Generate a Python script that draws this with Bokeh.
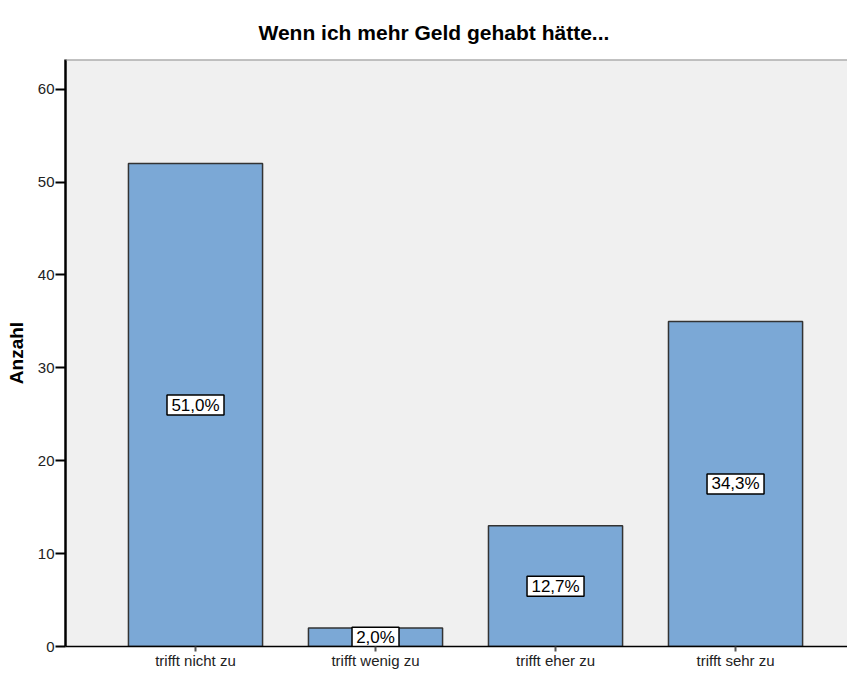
from bokeh.plotting import figure
from bokeh.models import Range1d, ColumnDataSource, FixedTicker, Title, Span
from bokeh.core.properties import value
from bokeh.embed import file_html
from bokeh.resources import INLINE

categories = ["trifft nicht zu", "trifft wenig zu", "trifft eher zu", "trifft sehr zu"]
counts = [52, 2, 13, 35]
percent_labels = ["51,0%", "2,0%", "12,7%", "34,3%"]
y_ticks = [0, 10, 20, 30, 40, 50, 60]
Y_MAX = 63.2

FONT = "Liberation Sans"

xs = list(range(len(categories)))
src = ColumnDataSource(dict(
    x=xs,
    top=counts,
    mid=[c / 2 for c in counts],
    lab=percent_labels,
    boxw=[10 * len(s) + 7 for s in percent_labels],
))

p = figure(width=847, height=671, output_backend="svg", toolbar_location=None,
           x_range=Range1d(-0.7222, 3.622), y_range=Range1d(0, Y_MAX),
           min_border_left=65, min_border_right=0, min_border_top=59, min_border_bottom=20)

p.title = Title(text="Wenn ich mehr Geld gehabt hätte...", align="left",
                text_font=FONT, text_font_size="21px", text_font_style="bold",
                text_color="black", offset=193, standoff=32)

p.background_fill_color = "#F0F0F0"
p.border_fill_color = "white"
p.outline_line_color = None
p.grid.visible = False

p.add_layout(Span(location=Y_MAX, dimension="width", line_color="#8C8C8C", line_width=2))

p.vbar(x="x", top="top", width=0.745, bottom=0, source=src,
       fill_color="#7BA8D6", line_color="#333333", line_width=1.5)

p.rect(x="x", y="mid", width="boxw", height=20, width_units="screen", height_units="screen",
       source=src, fill_color="white", line_color="black", line_width=1.5)
p.text(x="x", y="mid", text="lab", source=src, text_align="center", text_baseline="middle",
       text_font=value(FONT), text_font_size="17px", text_color="black")

# y axis
p.yaxis.ticker = FixedTicker(ticks=y_ticks)
p.yaxis.minor_tick_line_color = None
p.yaxis.major_tick_in = 0
p.yaxis.major_tick_out = 10
p.yaxis.major_tick_line_width = 2
p.yaxis.major_tick_line_color = "black"
p.yaxis.axis_line_width = 2.5
p.yaxis.axis_line_color = "black"
p.yaxis.major_label_text_font = FONT
p.yaxis.major_label_text_font_size = "15px"
p.yaxis.major_label_text_color = "#222222"
p.yaxis.major_label_standoff = 1
p.yaxis.axis_label = "Anzahl"
p.yaxis.axis_label_text_font = FONT
p.yaxis.axis_label_text_font_size = "19px"
p.yaxis.axis_label_text_font_style = "bold"
p.yaxis.axis_label_text_color = "black"
p.yaxis.axis_label_standoff = 8

# x axis
p.xaxis.ticker = FixedTicker(ticks=xs)
p.xaxis.major_label_overrides = {i: c for i, c in enumerate(categories)}
p.xaxis.minor_tick_line_color = None
p.xaxis.major_tick_in = 0
p.xaxis.major_tick_out = 5
p.xaxis.major_tick_line_width = 2
p.xaxis.major_tick_line_color = "#555555"
p.xaxis.axis_line_width = 1.5
p.xaxis.axis_line_color = "black"
p.xaxis.major_label_text_font = FONT
p.xaxis.major_label_text_font_size = "15px"
p.xaxis.major_label_text_color = "#222222"
p.xaxis.major_label_standoff = 0

open("out.html", "w").write(file_html(p, INLINE))
